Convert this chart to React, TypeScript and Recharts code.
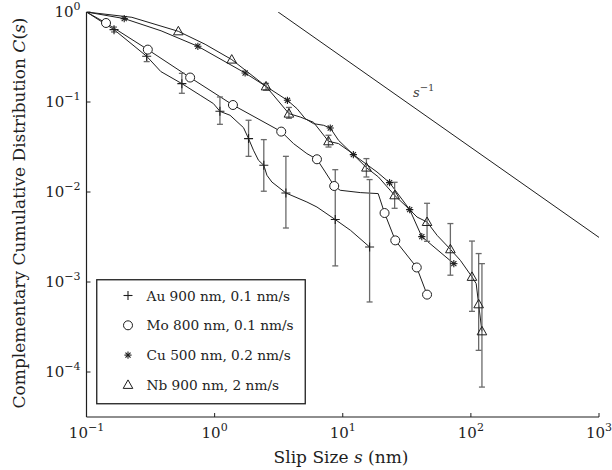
import React from 'react';
import { ComposedChart, Line, Scatter, ErrorBar, XAxis, YAxis, Legend } from 'recharts';

const FONT = '"DejaVu Serif", serif';
const INK = '#1e1e1e';

// axis ticks (slip size in nm, C(s))
const X_TICKS = [0.1, 1, 10, 100, 1000];
const Y_TICKS = [1e-4, 1e-3, 1e-2, 1e-1, 1];

// Au 900 nm, 0.1 nm/s
const AU_LINE_X = [0.1, 0.164, 0.295, 0.38, 0.555, 0.771, 0.979, 1.1, 1.32, 1.68, 1.84, 2.01, 2.2, 2.42, 2.56, 2.8, 3.6, 5.25, 6.29, 8.74, 11.5, 16.2];
const AU_LINE_Y = [1, 0.637, 0.322, 0.218, 0.16, 0.119, 0.096, 0.0788, 0.0712, 0.0519, 0.0392, 0.0291, 0.0225, 0.0198, 0.01534, 0.0129, 0.00975, 0.00774, 0.00681, 0.00494, 0.00375, 0.00245];
const AU_MARK_X = [0.164, 0.295, 0.555, 1.1, 1.84, 2.42, 3.6, 8.74, 16.2];
const AU_MARK_Y = [0.637, 0.322, 0.16, 0.0788, 0.0392, 0.0198, 0.00975, 0.00494, 0.00245];
const AU_ERR_LO = [0.6, 0.281, 0.125, 0.0565, 0.0249, 0.0102, 0.00398, 0.00151, 0.0006];
const AU_ERR_HI = [0.68, 0.378, 0.208, 0.1137, 0.0627, 0.0382, 0.0249, 0.0177, 0.01374];

// Mo 800 nm, 0.1 nm/s
const MO_LINE_X = [0.1, 0.142, 0.301, 0.644, 1.39, 3.31, 4.13, 5.25, 6.29, 7.3, 8.58, 9.55, 13.7, 18.9, 21.2, 25.7, 37.8, 45.5];
const MO_LINE_Y = [1, 0.755, 0.382, 0.187, 0.0926, 0.0469, 0.0345, 0.0267, 0.0231, 0.0167, 0.01166, 0.01045, 0.00985, 0.0096, 0.00584, 0.0029, 0.00145, 0.000724];
const MO_MARK_X = [0.142, 0.301, 0.644, 1.39, 3.31, 6.29, 8.58, 21.2, 25.7, 37.8, 45.5];
const MO_MARK_Y = [0.755, 0.382, 0.187, 0.0926, 0.0469, 0.0231, 0.01166, 0.00584, 0.0029, 0.00145, 0.000724];

// Cu 500 nm, 0.2 nm/s
const CU_LINE_X = [0.1, 0.197, 0.382, 0.74, 1.73, 2.52, 3.7, 4.39, 5.09, 5.91, 7.08, 7.99, 9.27, 12.1, 18.5, 23.2, 33.3, 41.4, 73.6];
const CU_LINE_Y = [1, 0.845, 0.618, 0.416, 0.21, 0.149, 0.1044, 0.0845, 0.0654, 0.0575, 0.0551, 0.0514, 0.0375, 0.026, 0.0167, 0.0127, 0.00637, 0.00319, 0.0016];
const CU_MARK_X = [0.197, 0.74, 1.73, 3.7, 7.99, 12.1, 23.2, 33.3, 41.4, 73.6];
const CU_MARK_Y = [0.845, 0.416, 0.21, 0.1044, 0.0514, 0.026, 0.0127, 0.00637, 0.00319, 0.0016];

// Nb 900 nm, 2 nm/s
const NB_LINE_X = [0.1, 0.226, 0.521, 0.843, 1.36, 2.52, 3.8, 4.66, 5.91, 7.74, 9.27, 11.5, 12.1, 15.3, 19.0, 25.4, 33.3, 38.0, 45.5, 54.5, 69.2, 82.8, 102, 110, 115, 122];
const NB_LINE_Y = [1, 0.873, 0.61, 0.438, 0.296, 0.149, 0.0743, 0.0681, 0.0595, 0.0366, 0.0345, 0.0278, 0.026, 0.01867, 0.01468, 0.00919, 0.00637, 0.00527, 0.00464, 0.0033, 0.00231, 0.00174, 0.00114, 0.00096, 0.000565, 0.000283];
const NB_MARK_X = [0.521, 1.36, 2.52, 3.8, 7.74, 15.3, 25.4, 45.5, 69.2, 102, 115, 122];
const NB_MARK_Y = [0.61, 0.296, 0.149, 0.0743, 0.0366, 0.01867, 0.00919, 0.00464, 0.00231, 0.00114, 0.000565, 0.000283];
const NB_ERR_LO = [0.61, 0.296, 0.135, 0.0659, 0.0316, 0.01468, 0.00659, 0.00283, 0.00119, 0.000472, 0.000174, 0.000068];
const NB_ERR_HI = [0.61, 0.296, 0.161, 0.087, 0.0427, 0.0235, 0.01282, 0.00749, 0.00446, 0.00285, 0.00207, 0.0016];

// s^-1 guide line
const REF_X = [3.13, 1000];
const REF_Y = [1, 0.00313];

const LEGEND_NAMES = ['Au 900 nm, 0.1 nm/s', 'Mo 800 nm, 0.1 nm/s', 'Cu 500 nm, 0.2 nm/s', 'Nb 900 nm, 2 nm/s'];
const LEGEND_KINDS = ['plus', 'circle', 'star', 'tri'];

const toLine = (xs: number[], ys: number[]) => xs.map((x, i) => ({ x, y: ys[i] }));
const toErr = (xs: number[], ys: number[], lo: number[], hi: number[]) =>
    xs.map((x, i) => ({ x, y: ys[i], err: [ys[i] - lo[i], hi[i] - ys[i]] }))
        .filter((d) => d.err[0] > 0 || d.err[1] > 0);

const auLine = toLine(AU_LINE_X, AU_LINE_Y);
const moLine = toLine(MO_LINE_X, MO_LINE_Y);
const cuLine = toLine(CU_LINE_X, CU_LINE_Y);
const nbLine = toLine(NB_LINE_X, NB_LINE_Y);
const refLine = toLine(REF_X, REF_Y);
const auMarks = toLine(AU_MARK_X, AU_MARK_Y);
const moMarks = toLine(MO_MARK_X, MO_MARK_Y);
const cuMarks = toLine(CU_MARK_X, CU_MARK_Y);
const nbMarks = toLine(NB_MARK_X, NB_MARK_Y);
const auErr = toErr(AU_MARK_X, AU_MARK_Y, AU_ERR_LO, AU_ERR_HI);
const nbErr = toErr(NB_MARK_X, NB_MARK_Y, NB_ERR_LO, NB_ERR_HI);

const Mark = ({ kind, cx, cy }: { kind: string; cx: number; cy: number }) => {
    if (kind === 'plus') {
        return (
            <g stroke={INK} strokeWidth={1.1}>
                <line x1={cx - 4.5} y1={cy} x2={cx + 4.5} y2={cy} />
                <line x1={cx} y1={cy - 4.5} x2={cx} y2={cy + 4.5} />
            </g>
        );
    }
    if (kind === 'circle') {
        return <circle cx={cx} cy={cy} r={4.5} fill="#fff" stroke={INK} strokeWidth={1} />;
    }
    if (kind === 'star') {
        const r = 3.6;
        const d = r * 0.71;
        return (
            <g stroke={INK} strokeWidth={1.1}>
                <line x1={cx - r} y1={cy} x2={cx + r} y2={cy} />
                <line x1={cx} y1={cy - r} x2={cx} y2={cy + r} />
                <line x1={cx - d} y1={cy - d} x2={cx + d} y2={cy + d} />
                <line x1={cx - d} y1={cy + d} x2={cx + d} y2={cy - d} />
            </g>
        );
    }
    return (
        <polygon
            points={`${cx},${cy - 5} ${cx - 4.8},${cy + 3.5} ${cx + 4.8},${cy + 3.5}`}
            fill="none" stroke={INK} strokeWidth={1}
        />
    );
};

const expText = (v: number) => {
    const e = Math.round(Math.log10(v));
    return e < 0 ? `\u2212${-e}` : `${e}`;
};

const XTick = (props: any) => {
    const { x, y, payload } = props;
    return (
        <g>
            <line x1={x} y1={y} x2={x} y2={y - 4} stroke={INK} />
            <text x={x} y={y + 21} textAnchor="middle" fontSize={15} fill={INK} fontFamily={FONT}>
                10<tspan dy={-7} fontSize={11}>{expText(payload.value)}</tspan>
            </text>
        </g>
    );
};

const YTick = (props: any) => {
    const { x, y, payload } = props;
    return (
        <g>
            <line x1={x} y1={y} x2={x + 4} y2={y} stroke={INK} />
            <text x={x - 6} y={y + 5} textAnchor="end" fontSize={15} fill={INK} fontFamily={FONT}>
                10<tspan dy={-7} fontSize={11}>{expText(payload.value)}</tspan>
            </text>
        </g>
    );
};

const LegendBox = () => (
    <svg width={210} height={126} style={{ display: 'block' }}>
        <rect x={0.75} y={0.75} width={208.5} height={124} fill="#fff" stroke={INK} strokeWidth={1.3} />
        {LEGEND_NAMES.map((name, i) => (
            <g key={name}>
                <Mark kind={LEGEND_KINDS[i]} cx={32} cy={16.5 + i * 29.8} />
                <text x={50.5} y={21.5 + i * 29.8} fontSize={13.7} fill={INK} fontFamily={FONT}>{name}</text>
            </g>
        ))}
    </svg>
);

const hidden = () => <g />;

export default function App() {
    return (
        <div style={{ position: 'absolute', left: 0, top: 0, width: 612, height: 470, background: '#fff' }}>
            <ComposedChart width={612} height={470} margin={{ top: 12, right: 13, bottom: 23, left: 0 }}>
                <XAxis
                    type="number" dataKey="x" scale="log" domain={[0.1, 1000]} allowDataOverflow
                    ticks={X_TICKS} interval={0} tick={<XTick />} tickLine={false} tickSize={0} tickMargin={0}
                    height={30} axisLine={{ stroke: INK, strokeWidth: 1.2 }}
                />
                <YAxis
                    type="number" dataKey="y" scale="log" domain={[Math.pow(10, -4.5), 1]} allowDataOverflow
                    ticks={Y_TICKS} interval={0} tick={<YTick />} tickLine={false} tickSize={0} tickMargin={0}
                    width={86.5} axisLine={{ stroke: INK, strokeWidth: 1.2 }}
                />
                <Legend
                    layout="vertical" verticalAlign="middle" align="center"
                    wrapperStyle={{ left: 96, top: 279, width: 210, height: 126 }}
                    content={() => <LegendBox />}
                />

                <Line data={refLine} dataKey="y" type="linear" stroke={INK} strokeWidth={1} dot={false} isAnimationActive={false} legendType="none" />
                <Line data={auLine} dataKey="y" type="linear" stroke={INK} strokeWidth={1} dot={false} isAnimationActive={false} />
                <Line data={moLine} dataKey="y" type="linear" stroke={INK} strokeWidth={1} dot={false} isAnimationActive={false} />
                <Line data={cuLine} dataKey="y" type="linear" stroke={INK} strokeWidth={1} dot={false} isAnimationActive={false} />
                <Line data={nbLine} dataKey="y" type="linear" stroke={INK} strokeWidth={1} dot={false} isAnimationActive={false} />

                <Scatter data={auErr} dataKey="y" shape={hidden} isAnimationActive={false}>
                    <ErrorBar dataKey="err" direction="y" width={3} stroke="#6a6a6a" strokeWidth={1.3} />
                </Scatter>
                <Scatter data={nbErr} dataKey="y" shape={hidden} isAnimationActive={false}>
                    <ErrorBar dataKey="err" direction="y" width={3} stroke="#6a6a6a" strokeWidth={1.3} />
                </Scatter>

                <Scatter data={auMarks} dataKey="y" isAnimationActive={false} shape={(p: any) => <Mark kind="plus" cx={p.cx} cy={p.cy} />} />
                <Scatter data={moMarks} dataKey="y" isAnimationActive={false} shape={(p: any) => <Mark kind="circle" cx={p.cx} cy={p.cy} />} />
                <Scatter data={cuMarks} dataKey="y" isAnimationActive={false} shape={(p: any) => <Mark kind="star" cx={p.cx} cy={p.cy} />} />
                <Scatter data={nbMarks} dataKey="y" isAnimationActive={false} shape={(p: any) => <Mark kind="tri" cx={p.cx} cy={p.cy} />} />
            </ComposedChart>

            {/* axis titles and the s^-1 note */}
            <svg width={612} height={470} style={{ position: 'absolute', left: 0, top: 0, pointerEvents: 'none' }}>
                <text x={341} y={463} textAnchor="middle" fontSize={17} fill={INK} fontFamily={FONT}>
                    Slip Size <tspan fontStyle="italic">s</tspan> (nm)
                </text>
                <text transform="translate(25,213) rotate(-90)" textAnchor="middle" fontSize={17} fill={INK} fontFamily={FONT}>
                    Complementary Cumulative Distribution <tspan fontStyle="italic">C</tspan>(<tspan fontStyle="italic">s</tspan>)
                </text>
                <text x={413} y={97} fontSize={13} fill="#444" fontFamily={FONT}>
                    <tspan fontStyle="italic">s</tspan><tspan dy={-6} fontSize={10}>{'\u2212'}1</tspan>
                </text>
            </svg>
        </div>
    );
}
